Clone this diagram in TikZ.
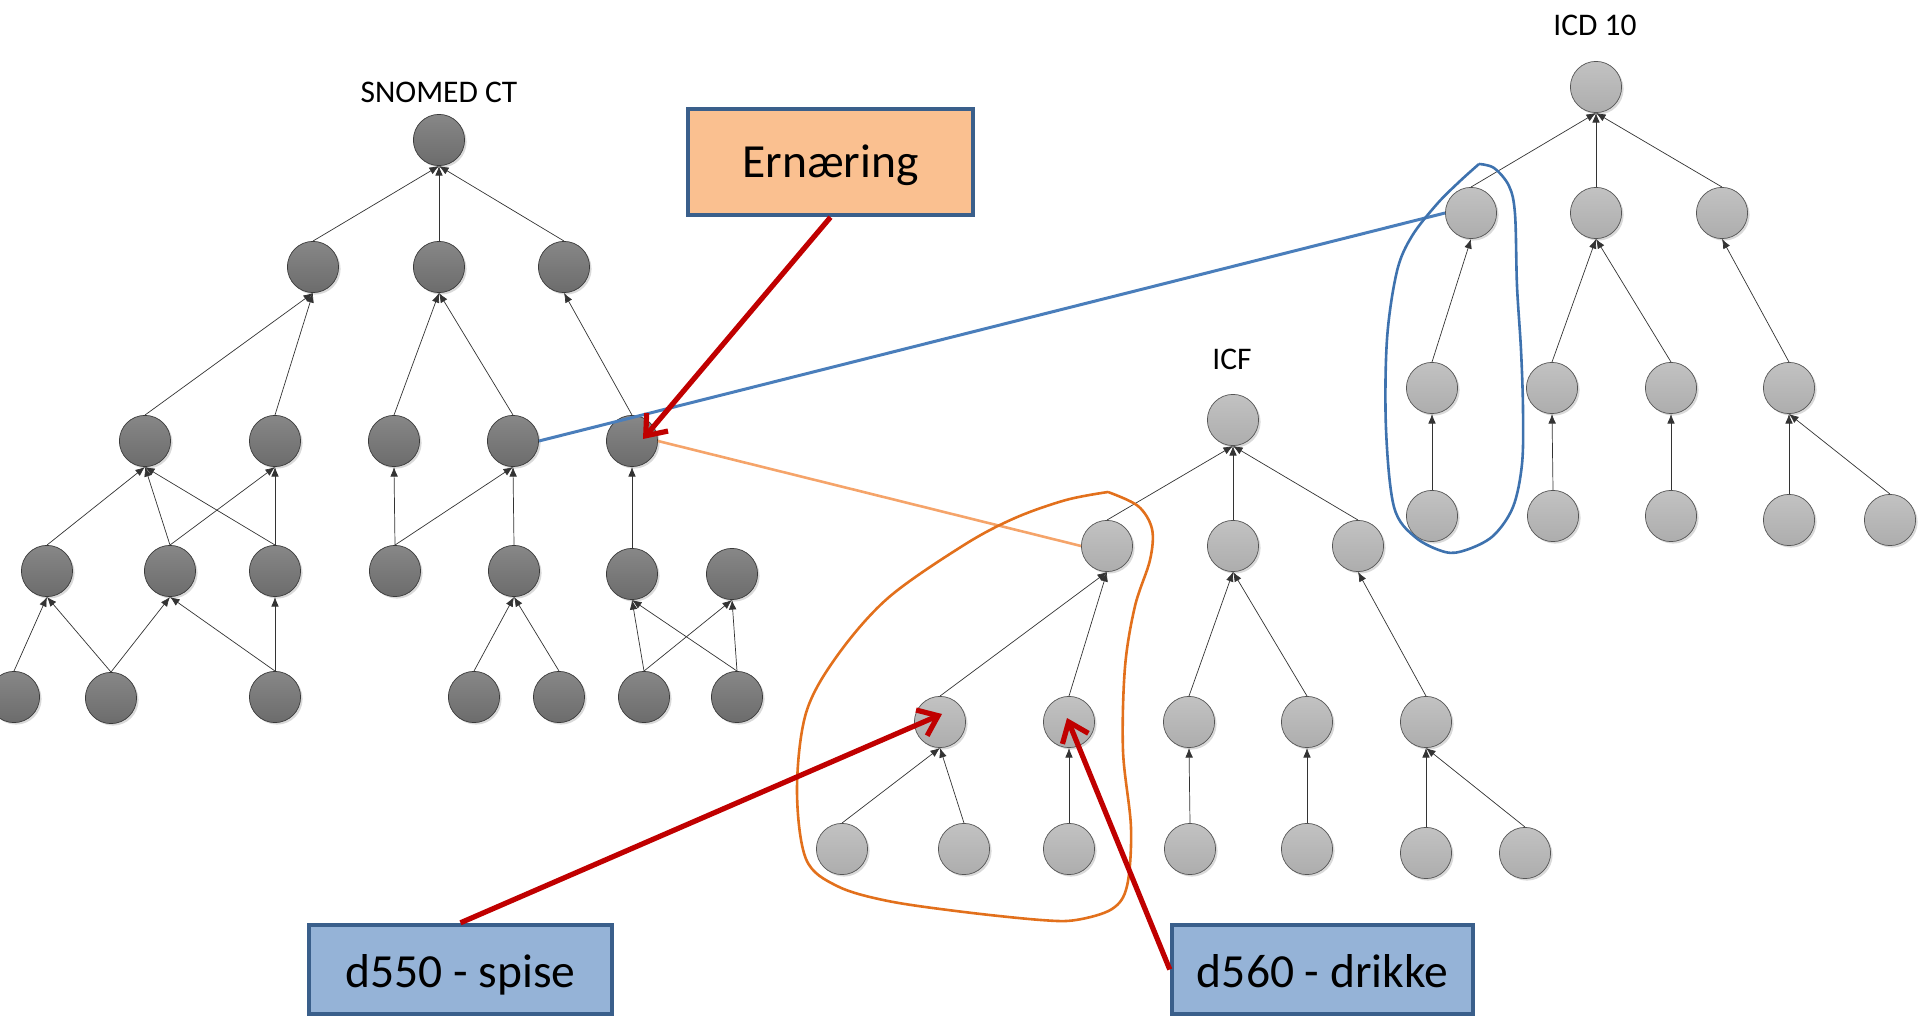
\documentclass[tikz,border=0pt]{standalone}
\usepackage{fontspec}
\setmainfont{Carlito}
\usetikzlibrary{arrows.meta,shadows,calc}
\definecolor{snotop}{HTML}{878787}
\definecolor{snobot}{HTML}{6C6C6C}
\definecolor{snoline}{HTML}{3A3A3A}
\definecolor{lgtop}{HTML}{C2C2C2}
\definecolor{lgbot}{HTML}{ADADAD}
\definecolor{lgline}{HTML}{555555}
\definecolor{redc}{HTML}{C00000}
\definecolor{boxline}{HTML}{3A5F8B}
\definecolor{peach}{HTML}{FAC090}
\definecolor{paleblue}{HTML}{95B3D7}
\definecolor{bluec}{HTML}{4A7EBB}
\definecolor{orangeline}{HTML}{F5A46A}
\definecolor{orangeloopc}{HTML}{E2701C}
\definecolor{blueloopc}{HTML}{3E72AE}
\begin{document}
\begin{tikzpicture}[x=0.025cm, y=-0.025cm,
  basenode/.style={circle, minimum size=1.28cm, inner sep=0pt, line width=0.5pt,
    drop shadow={shadow xshift=0.05cm, shadow yshift=-0.05cm, fill=black, opacity=0.15}},
  dnode/.style={basenode, draw=snoline, top color=snotop, bottom color=snobot},
  lnode/.style={basenode, draw=lgline, top color=lgtop, bottom color=lgbot},
  tline/.style={draw=black!80, line width=0.5pt, -{Latex[length=0.24cm,width=0.19cm]}},
  treelabel/.style={font=\fontsize{22.4}{26}\selectfont, inner sep=0pt},
  bigbox/.style={draw=boxline, line width=0.11cm, inner sep=0pt, text depth=0pt,
    font=\fontsize{33.8}{40}\selectfont},
  redarrow/.style={draw=redc, line width=0.13cm, -{Straight Barb[length=0.45cm,width=0.7cm]}},
  linkblue/.style={draw=bluec, line width=0.075cm},
  linkorange/.style={draw=orangeline, line width=0.065cm},
  blueloop/.style={draw=blueloopc, line width=0.065cm},
  orangeloop/.style={draw=orangeloopc, line width=0.065cm}
]
\useasboundingbox (0,0) rectangle (1920,1016);
\clip (0,0) rectangle (1920,1016);

% ---------- SNOMED CT ----------
\node[treelabel] (snolab) at (439,92) {SNOMED CT};
\node[dnode] (s0) at (439,140) {};
\node[dnode] (s1a) at (313,267) {};
\node[dnode] (s1b) at (439,267) {};
\node[dnode] (s1c) at (564,267) {};
\node[dnode] (s2a) at (145,441) {};
\node[dnode] (s2b) at (275,441) {};
\node[dnode] (s2c) at (394,441) {};
\node[dnode] (s2d) at (513,441) {};
\node[dnode] (s2e) at (632,441) {};
\node[dnode] (s3a) at (47,571) {};
\node[dnode] (s3b) at (170,571) {};
\node[dnode] (s3c) at (275,571) {};
\node[dnode] (s3d) at (395,571) {};
\node[dnode] (s3e) at (514,571) {};
\node[dnode] (s3f) at (632,574) {};
\node[dnode] (s3g) at (732,574) {};
\node[dnode] (s4a) at (14,697) {};
\node[dnode] (s4b) at (111,698) {};
\node[dnode] (s4c) at (275,697) {};
\node[dnode] (s4d) at (474,697) {};
\node[dnode] (s4e) at (559,697) {};
\node[dnode] (s4f) at (644,697) {};
\node[dnode] (s4g) at (737,697) {};

\foreach \c/\p in {s1a/s0, s1b/s0, s1c/s0,
  s2a/s1a, s2b/s1a, s2c/s1b, s2d/s1b, s2e/s1c,
  s3a/s2a, s3b/s2a, s3c/s2a, s3b/s2b, s3c/s2b,
  s3d/s2c, s3d/s2d, s3e/s2d, s3f/s2e,
  s4a/s3a, s4b/s3a, s4b/s3b, s4c/s3b, s4c/s3c,
  s4d/s3e, s4e/s3e, s4f/s3f, s4g/s3f, s4f/s3g, s4g/s3g}
  \draw[tline] (\c.north) -- (\p.south);

% ---------- ICD 10 ----------
\node[treelabel] (icdlab) at (1595,25) {ICD 10};
\node[lnode] (i0) at (1596,87) {};
\node[lnode] (i1a) at (1471,213) {};
\node[lnode] (i1b) at (1596,213) {};
\node[lnode] (i1c) at (1722,213) {};
\node[lnode] (i2a) at (1432,388) {};
\node[lnode] (i2b) at (1552,388) {};
\node[lnode] (i2c) at (1671,388) {};
\node[lnode] (i2d) at (1789,388) {};
\node[lnode] (i3a) at (1432,516) {};
\node[lnode] (i3b) at (1553,516) {};
\node[lnode] (i3c) at (1671,516) {};
\node[lnode] (i3d) at (1789,520) {};
\node[lnode] (i3e) at (1890,520) {};

\foreach \c/\p in {i1a/i0, i1b/i0, i1c/i0,
  i2a/i1a, i2b/i1b, i2c/i1b, i2d/i1c,
  i3a/i2a, i3b/i2b, i3c/i2c, i3d/i2d, i3e/i2d}
  \draw[tline] (\c.north) -- (\p.south);

% ---------- ICF ----------
\node[treelabel] (icflab) at (1232,359) {ICF};
\node[lnode] (f0) at (1233,420) {};
\node[lnode] (f1a) at (1107,546) {};
\node[lnode] (f1b) at (1233,546) {};
\node[lnode] (f1c) at (1358,546) {};
\node[lnode] (f2a) at (940,722) {};
\node[lnode] (f2b) at (1069,722) {};
\node[lnode] (f2c) at (1189,722) {};
\node[lnode] (f2d) at (1307,722) {};
\node[lnode] (f2e) at (1426,722) {};
\node[lnode] (f3a) at (842,849) {};
\node[lnode] (f3b) at (964,849) {};
\node[lnode] (f3c) at (1069,849) {};
\node[lnode] (f3d) at (1190,849) {};
\node[lnode] (f3e) at (1307,849) {};
\node[lnode] (f3f) at (1426,853) {};
\node[lnode] (f3g) at (1525,853) {};

\foreach \c/\p in {f1a/f0, f1b/f0, f1c/f0,
  f2a/f1a, f2b/f1a, f2c/f1b, f2d/f1b, f2e/f1c,
  f3a/f2a, f3b/f2a, f3c/f2b, f3d/f2c, f3e/f2d, f3f/f2e, f3g/f2e}
  \draw[tline] (\c.north) -- (\p.south);

% ---------- links between terminologies ----------
\draw[linkorange] (s2e.east) -- (f1a.west);
\draw[linkblue] (s2d.east) -- (i1a.west);

% ---------- loops ----------
\draw[blueloop] plot[smooth, tension=0.55] coordinates {(1479,164) (1494,168) (1509,186) (1515,214) (1517,286) (1521,350) (1523,410) (1522,464) (1513,507) (1493,536) (1466,550) (1445,552) (1415,537) (1394,507) (1386,429) (1387,339) (1397,271) (1412,236) (1437,204) (1459,182) (1479,164)};
\draw[orangeloop] plot[smooth, tension=0.55] coordinates {(1108,492) (1138,506) (1152,529) (1150,560) (1135,606) (1125,667) (1123,751) (1131,828) (1127,886) (1112,909) (1076,920) (1041,920) (964,912) (888,901) (837,886) (806,859) (797,790) (806,713) (837,656) (888,598) (964,545) (1015,518) (1066,500) (1108,492)};

% ---------- boxes ----------
\node[bigbox, fill=peach, text height=21.5pt, minimum width=7.125cm, minimum height=2.65cm] (ern) at (830.5,162) {Ernæring};
\node[bigbox, fill=paleblue, text height=25pt, minimum width=7.575cm, minimum height=2.225cm] (d550) at (460.5,969.5) {d550 - spise};
\node[bigbox, fill=paleblue, text height=25pt, minimum width=7.525cm, minimum height=2.225cm] (d560) at (1322.5,969.5) {d560 - drikke};

% ---------- red arrows ----------
\coordinate (tipern) at (643,439);
\coordinate (tipspise) at (942,714);
\coordinate (tipdrikke) at (1067,718);
\draw[redarrow] (ern.south) -- (tipern);
\draw[redarrow] (d550.north) -- (tipspise);
\draw[redarrow] (d560.west) -- (tipdrikke);
\end{tikzpicture}
\end{document}
